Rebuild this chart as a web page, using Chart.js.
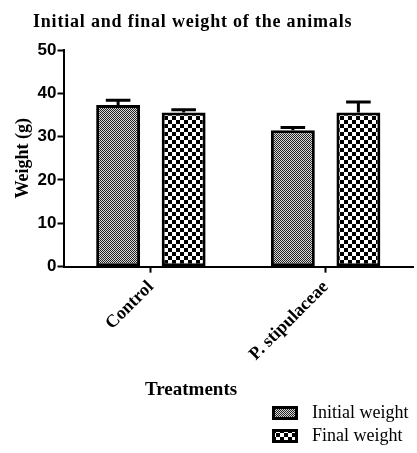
<!DOCTYPE html>
<html>
<head>
<meta charset="utf-8">
<script src="https://cdn.jsdelivr.net/npm/chart.js@4.4.0/dist/chart.umd.min.js"></script>
<style>
  body { margin: 0; background: #fff; }
  #wrap { position: relative; width: 417px; height: 453px; }
  #title { position: absolute; left: 33px; top: 11px; font: bold 18px "Liberation Serif", serif; letter-spacing: 0.8px; color: #000; white-space: nowrap; }
  #xtitle { position: absolute; left: 145px; top: 378px; font: bold 19px "Liberation Serif", serif; color: #000; }
  .leg { position: absolute; left: 272px; font: 18px "Liberation Serif", serif; color: #000; white-space: nowrap; display: flex; align-items: center; }
  .leg canvas { margin-right: 14px; }
</style>
</head>
<body>
<div id="wrap">
  <canvas id="chart" width="417" height="453"></canvas>
  <div id="title">Initial and final weight of the animals</div>
  <div id="xtitle">Treatments</div>
  <div class="leg" style="top:402px"><canvas id="sw0" width="26" height="14"></canvas>Initial weight</div>
  <div class="leg" style="top:425px"><canvas id="sw1" width="26" height="14"></canvas>Final weight</div>
</div>
<script>
// data
const treatments = ["Control", "P. stipulaceae"];
const seriesNames = ["Initial weight", "Final weight"];
const initialWeight = [37.3, 31.5];
const finalWeight = [35.6, 35.6];
const initialErr = [1.1, 0.6];
const finalErr = [0.6, 2.4];

function checker(cell, dark, light) {
  const c = document.createElement("canvas");
  c.width = c.height = cell * 2;
  const g = c.getContext("2d");
  g.fillStyle = light;
  g.fillRect(0, 0, cell * 2, cell * 2);
  g.fillStyle = dark;
  g.fillRect(0, 0, cell, cell);
  g.fillRect(cell, cell, cell, cell);
  return g.createPattern(c, "repeat");
}

const fineFill = checker(1, "#222", "#d8d8d8");
const coarseFill = checker(4, "#000", "#fff");

// legend swatches
[fineFill, coarseFill].forEach((p, i) => {
  const g = document.getElementById("sw" + i).getContext("2d");
  g.fillStyle = "#000";
  g.fillRect(0, 0, 26, 14);
  g.fillStyle = p;
  g.fillRect(3, 3, 20, 8);
});

// upward error bars with a cap
const errorBars = {
  id: "errorBars",
  afterDatasetsDraw(chart) {
    const ctx = chart.ctx;
    const y = chart.scales.y;
    ctx.save();
    ctx.strokeStyle = "#000";
    ctx.lineWidth = 3;
    chart.data.datasets.forEach((ds, i) => {
      const meta = chart.getDatasetMeta(i);
      meta.data.forEach((bar, j) => {
        const top = y.getPixelForValue(ds.data[j] + ds.errors[j]);
        const half = bar.width * 0.28;
        ctx.beginPath();
        ctx.moveTo(bar.x, bar.y);
        ctx.lineTo(bar.x, top);
        ctx.moveTo(bar.x - half, top);
        ctx.lineTo(bar.x + half, top);
        ctx.stroke();
      });
    });
    ctx.restore();
  }
};

new Chart(document.getElementById("chart").getContext("2d"), {
  type: "bar",
  data: {
    labels: treatments,
    datasets: [
      { label: seriesNames[0], data: initialWeight, errors: initialErr, backgroundColor: fineFill, borderColor: "#000", borderWidth: 3, borderSkipped: false },
      { label: seriesNames[1], data: finalWeight, errors: finalErr, backgroundColor: coarseFill, borderColor: "#000", borderWidth: 3, borderSkipped: false }
    ]
  },
  options: {
    responsive: false,
    animation: false,
    categoryPercentage: 0.75,
    barPercentage: 0.67,
    layout: { padding: { left: 11, right: 4, top: 50, bottom: 84 } },
    plugins: { legend: { display: false }, tooltip: { enabled: false } },
    scales: {
      x: {
        grid: { drawOnChartArea: false, offset: false, tickLength: 6, tickWidth: 2, tickColor: "#000" },
        border: { color: "#000", width: 2 },
        ticks: { color: "#000", maxRotation: 45, minRotation: 45, padding: 4, font: { family: "Liberation Serif", size: 18, weight: "bold" } }
      },
      y: {
        min: 0, max: 50,
        grid: { drawOnChartArea: false, tickLength: 6, tickWidth: 2, tickColor: "#000" },
        border: { color: "#000", width: 2 },
        ticks: { stepSize: 10, color: "#000", padding: 1, font: { family: "Liberation Sans", size: 17, weight: "bold" } },
        title: { display: true, text: "Weight (g)", color: "#000", padding: 2, font: { family: "Liberation Serif", size: 18, weight: "bold" } }
      }
    }
  },
  plugins: [errorBars]
});
</script>
</body>
</html>
